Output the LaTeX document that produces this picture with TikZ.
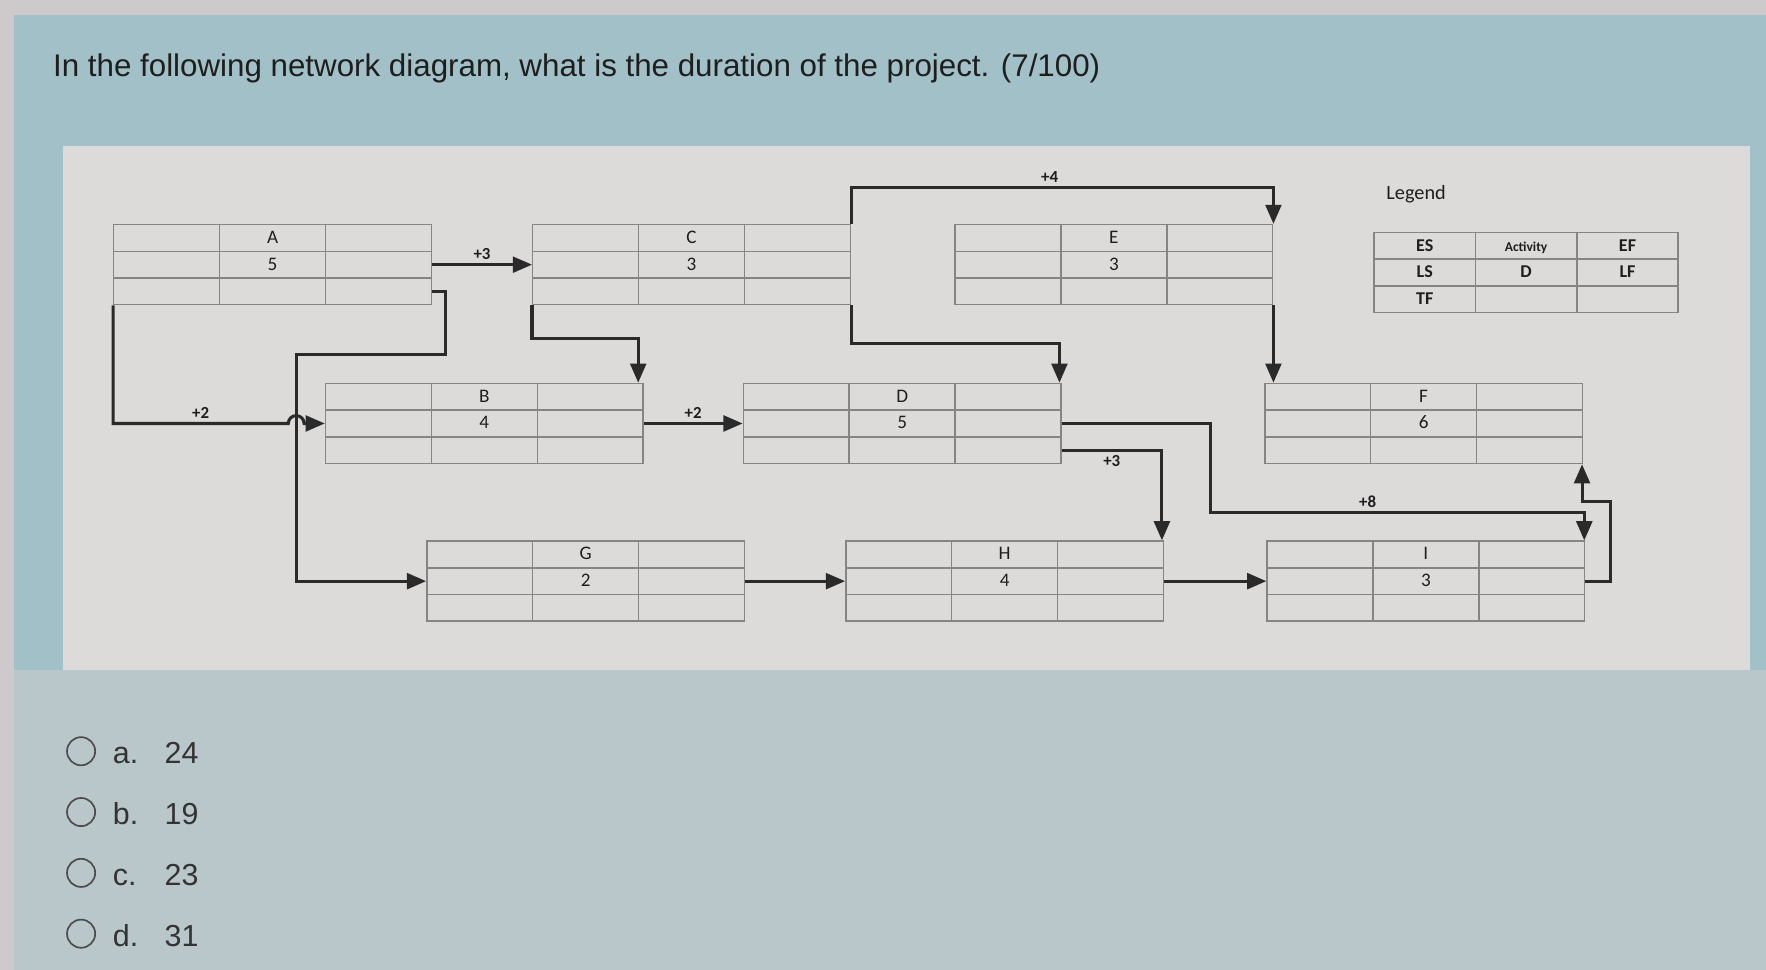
\documentclass[tikz,border=0pt]{standalone}
\usepackage{fontspec}
\usepackage{array}
\setmainfont{Liberation Sans}
\newfontfamily\boxfont{Carlito}
\usetikzlibrary{arrows.meta,calc,positioning}

\definecolor{outergray}{HTML}{CEC9CA}
\definecolor{bandblue}{HTML}{A2C0C7}
\definecolor{panelgray}{HTML}{DDDADA}
\definecolor{lowergray}{HTML}{BAC7CA}
\definecolor{gridgray}{HTML}{858585}
\definecolor{linedark}{HTML}{2A2A2A}
\definecolor{textdark}{HTML}{1E1E1E}

% three cells per row, name and duration in the middle column
\newcommand{\actcells}[2]{\begin{tabular}{*{3}{@{}w{c}{94pt}}@{}} & #1 & \\ & #2 & \\ & & \end{tabular}}

\tikzset{
  boxgrid/.style={draw=gridgray, line width=1.3pt, minimum height=71pt, inner sep=0pt, text=textdark,
    path picture={
      \path (path picture bounding box.north west) coordinate (nw)
            (path picture bounding box.south east) coordinate (se);
      \path ($(nw)!1/3!(se)$) coordinate (p1) ($(nw)!2/3!(se)$) coordinate (p2);
      \draw[gridgray, line width=1.3pt] (p1 |- nw) -- (p1 |- se) (p2 |- nw) -- (p2 |- se)
            (nw |- p1) -- (se |- p1) (nw |- p2) -- (se |- p2);
    }},
  activity/.style={boxgrid, minimum width=282pt, font=\boxfont\fontsize{17}{23.7}\selectfont},
  legendbox/.style={boxgrid, minimum width=270pt, font=\boxfont\bfseries\fontsize{16}{23.7}\selectfont},
  link/.style={draw=linedark, line width=2.7pt, ->},
  lag/.style={font=\boxfont\bfseries\fontsize{15}{17}\selectfont, text=textdark},
  question/.style={font=\fontsize{27.8}{32}\selectfont, text=textdark, inner sep=0pt, anchor=base west},
  radio/.style={circle, draw=black!70, line width=1.5pt, minimum size=25pt, inner sep=0pt},
  choice/.style={font=\fontsize{27}{30}\selectfont, text=black!80, inner sep=0pt, anchor=base west}
}

\begin{document}
\begin{tikzpicture}[x=1pt, y=-1pt, on grid, node distance=372pt, >={Triangle[length=17pt,width=14pt]}]
    \useasboundingbox (0,0) rectangle (1568,861.2);
    % page background
    \fill[outergray] (0,0) rectangle (1568,861.2);
    \fill[lowergray] (12,595) rectangle (1568,861.2);
    \fill[bandblue] (12,13) rectangle (1568,595);
    \fill[panelgray] (56,130) rectangle (1554,595);

    \node[question] (q) at (47,68) {In the following network diagram, what is the duration of the project. (7/100)};

    % activities
    \node[activity] (A) at (242,235) {\actcells{A}{5}};
    \node[activity] (C) [right=of A] {\actcells{C}{3}};
    \node[activity] (E) [right=375pt of C] {\actcells{E}{3}};
    \node[activity] (B) [below right=141pt and 188pt of A] {\actcells{B}{4}};
    \node[activity] (D) [right=371pt of B] {\actcells{D}{5}};
    \node[activity] (F) [right=463pt of D] {\actcells{F}{6}};
    \node[activity] (G) [below right=140pt and 90pt of B] {\actcells{G}{2}};
    \node[activity] (H) [right=of G] {\actcells{H}{4}};
    \node[activity] (I) [right=374pt of H] {\actcells{I}{3}};

    % legend
    \node[legendbox] (L) [right=366pt of E, yshift=-7pt] {\begin{tabular}{*{3}{@{}w{c}{90pt}}@{}}
        ES & {\fontsize{12}{14}\selectfont Activity} & EF \\ LS & D & LF \\ TF & & \end{tabular}};
    \node[font=\boxfont\fontsize{18}{20}\selectfont, text=textdark] (legendtitle) at ([shift={(38,-33)}]L.north west) {Legend};

    \coordinate (turnG) at (263,315);
    \coordinate (turnI) at (1075,455);

    % dependencies
    \draw[link] (A.east) -- (C.west) node[above, midway, lag] {+3};
    \draw[link] (A.south west) |- ([xshift=-7pt]turnG |- B.west) node[above, pos=0.75, lag] {+2}
        arc[start angle=180, end angle=0, radius=7pt] -- (B.west);
    \draw[link] ([yshift=-24pt]A.east) -- ++(12,0) |- (turnG) -- (turnG |- G.west) -- (G.west);
    \draw[link] (C.south west) -- ++(0,29) -| ([xshift=-5pt]B.north east);
    \draw[link] (B.east) -- (D.west) node[above, midway, lag] {+2};
    \draw[link] (C.north east) -- ++(0,-32) -| (E.north east) node[above, pos=0.235, lag] {+4};
    \draw[link] (C.south east) -- ++(0,34) -| ([xshift=-2pt]D.north east);
    \draw[link] (E.south east) -- (E.south east |- F.north);
    \draw[link] ([yshift=-24pt]D.east) -| ([xshift=-2pt]H.north east) node[below, pos=0.25, lag] {+3};
    \draw[link] (D.east) -| (turnI) -| ([xshift=-1pt]I.north east) node[above, pos=0.21, lag] {+8};
    \draw[link] (I.east) -- ++(22,0) -- ++(0,-71) -| ([xshift=-1pt]F.south east);
    \draw[link] (G.east) -- (H.west);
    \draw[link] (H.east) -- (I.west);

    % answers
    \node[radio] (ra) at (72,667) {};
    \node[radio] (rb) at (72,721) {};
    \node[radio] (rc) at (72,775) {};
    \node[radio] (rd) at (72,829) {};
    \node[choice] (ta) at (100,678) {a.};
    \node[choice] (tb) at (100,732) {b.};
    \node[choice] (tc) at (100,786) {c.};
    \node[choice] (td) at (100,840) {d.};
    \node[choice] (na) at (146,678) {24};
    \node[choice] (nb) at (146,732) {19};
    \node[choice] (nc) at (146,786) {23};
    \node[choice] (nd) at (146,840) {31};
\end{tikzpicture}
\end{document}
